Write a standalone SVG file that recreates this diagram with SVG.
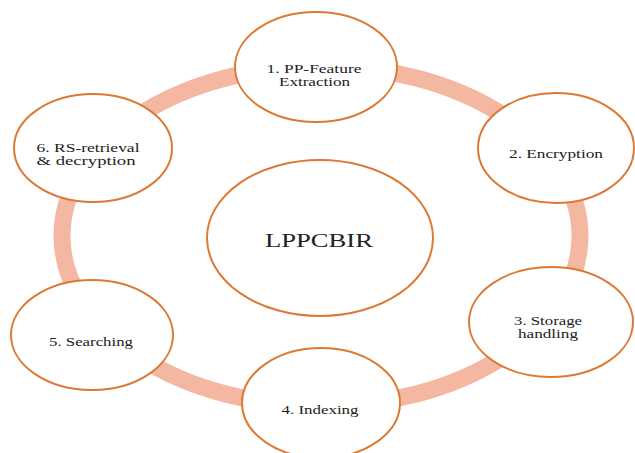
<svg xmlns="http://www.w3.org/2000/svg" width="635" height="453" viewBox="0 0 635 453">
<style>
.ring{fill:none;stroke:#f4b7a1;stroke-width:17}
.node{fill:#ffffff;stroke:#dc7a35;stroke-width:2}
.lbl{font-size:11.5px;fill:#222222}
.big{font-size:19px;fill:#222222}
</style>
<rect width="635" height="453" fill="#ffffff"/>
<g id="connectors">
<ellipse class="ring" cx="321" cy="236" rx="259" ry="170"/>
</g>
<g font-family="'Liberation Serif', 'Times New Roman', 'DejaVu Serif', serif" text-anchor="middle">
<g id="center">
<ellipse class="node" cx="320" cy="238" rx="113" ry="78"/>
<text class="big" x="319" y="247" textLength="108" lengthAdjust="spacingAndGlyphs">LPPCBIR</text>
</g>
<g id="node1">
<ellipse class="node" cx="316" cy="67" rx="81" ry="55"/>
<text class="lbl" x="314" y="73" textLength="95" lengthAdjust="spacingAndGlyphs">1. PP-Feature</text>
<text class="lbl" x="314.5" y="86" textLength="71" lengthAdjust="spacingAndGlyphs">Extraction</text>
</g>
<g id="node2">
<ellipse class="node" cx="556" cy="148" rx="78" ry="55"/>
<text class="lbl" x="556" y="158" textLength="94" lengthAdjust="spacingAndGlyphs">2. Encryption</text>
</g>
<g id="node3">
<ellipse class="node" cx="551" cy="322" rx="82" ry="55"/>
<text class="lbl" x="548" y="325" textLength="68" lengthAdjust="spacingAndGlyphs">3. Storage</text>
<text class="lbl" x="548" y="338" textLength="60" lengthAdjust="spacingAndGlyphs">handling</text>
</g>
<g id="node4">
<ellipse class="node" cx="321" cy="403" rx="79" ry="55"/>
<text class="lbl" x="320" y="414" textLength="77" lengthAdjust="spacingAndGlyphs">4. Indexing</text>
</g>
<g id="node5">
<ellipse class="node" cx="92" cy="335" rx="81" ry="55"/>
<text class="lbl" x="91" y="346" textLength="84" lengthAdjust="spacingAndGlyphs">5. Searching</text>
</g>
<g id="node6">
<ellipse class="node" cx="93" cy="148" rx="79" ry="54"/>
<text class="lbl" x="88" y="152" textLength="103" lengthAdjust="spacingAndGlyphs">6. RS-retrieval</text>
<text class="lbl" x="86" y="165" textLength="99" lengthAdjust="spacingAndGlyphs">&amp; decryption</text>
</g>
</g>
</svg>
